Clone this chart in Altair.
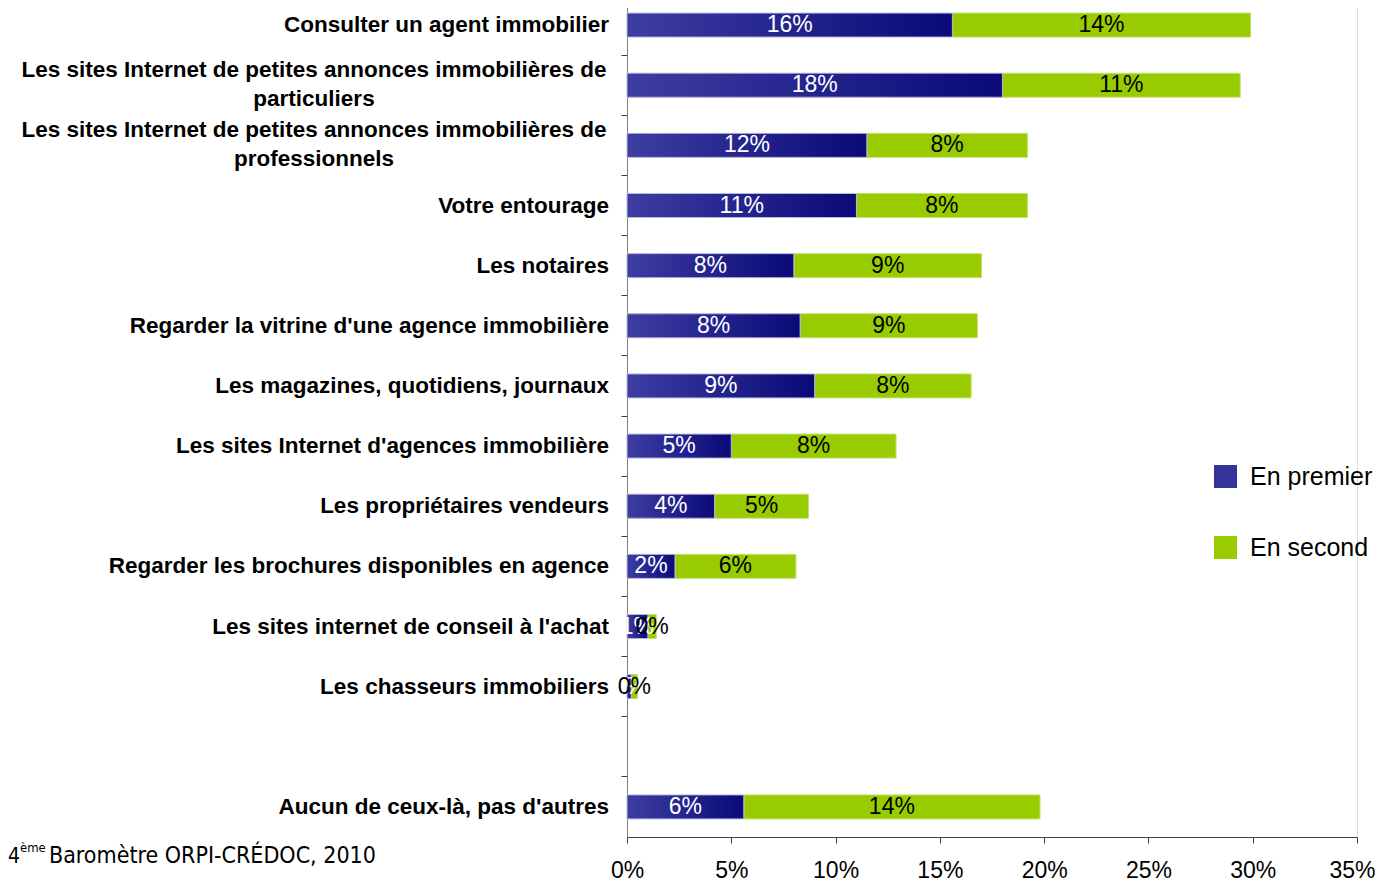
import altair as alt
import pandas as pd

categories = [
    "Consulter un agent immobilier",
    "Les sites Internet de petites annonces immobilières de\nparticuliers",
    "Les sites Internet de petites annonces immobilières de\nprofessionnels",
    "Votre entourage",
    "Les notaires",
    "Regarder la vitrine d'une agence immobilière",
    "Les magazines, quotidiens, journaux",
    "Les sites Internet d'agences immobilière",
    "Les propriétaires vendeurs",
    "Regarder les brochures disponibles en agence",
    "Les sites internet de conseil à l'achat",
    "Les chasseurs immobiliers",
    "Aucun de ceux-là, pas d'autres",
]
premier = [15.6, 18.0, 11.5, 11.0, 8.0, 8.3, 9.0, 5.0, 4.2, 2.3, 1.0, 0.2, 5.6]
second = [14.3, 11.4, 7.7, 8.2, 9.0, 8.5, 7.5, 7.9, 4.5, 5.8, 0.4, 0.3, 14.2]
series_names = ["En premier", "En second"]
series_colors = ["#333399", "#99cc00"]
x_ticks = [0, 5, 10, 15, 20, 25, 30, 35]
gap_slot = " "
y_domain = categories[:12] + [gap_slot] + categories[12:]
source_parts = ["4", "ème", "Baromètre ORPI-CRÉDOC, 2010"]

df = pd.DataFrame({"category": categories, "premier": premier, "second": second})

FONT = "Liberation Sans"

base = alt.Chart(df).transform_calculate(
    total="datum.premier + datum.second",
    mid1="datum.premier / 2",
    mid2="datum.premier + datum.second / 2",
    lab1="round(datum.premier) + '%'",
    lab2="round(datum.second) + '%'",
    two="indexof(datum.category, '\\n') >= 0",
)

Y = alt.Y(
    "category:N",
    sort=y_domain,
    scale=alt.Scale(domain=y_domain, paddingInner=0, paddingOuter=0),
    axis=alt.Axis(
        labels=False, title=None, ticks=True, tickSize=6, bandPosition=0,
        domainColor="#808080", tickColor="#404040", domainWidth=1, grid=False,
    ),
)
X_SCALE = alt.Scale(domain=[0, 35], nice=False)
X_AXIS = alt.Axis(
    values=x_ticks, labelExpr="datum.value + '%'", title=None, grid=False,
    tickSize=6, labelFontSize=23, labelFont=FONT, labelColor="#000000",
    labelPadding=16, labelFlush=False, labelOverlap=False,
    labelAlign={"condition": {"test": "datum.value == 35", "value": "right"}, "value": "center"},
    labelOffset={"condition": {"test": "datum.value == 35", "value": 18}, "value": 0},
    domainColor="#404040", tickColor="#404040",
)
color_enc = alt.Color(
    "series:N",
    scale=alt.Scale(domain=series_names, range=series_colors),
    legend=alt.Legend(
        title=None, orient="none", legendX=586, legendY=469, symbolType="square",
        symbolSize=529, symbolStrokeWidth=0, labelFontSize=25, labelFont=FONT,
        labelColor="#000000", rowPadding=45, labelOffset=12, padding=0,
    ),
)

bar1 = base.transform_calculate(series="'En premier'").mark_bar(size=24).encode(
    x=alt.X("premier:Q", scale=X_SCALE, axis=X_AXIS), y=Y, color=color_enc
)
bar2 = base.transform_calculate(series="'En second'").mark_bar(
    size=24, stroke="#c4e070", strokeWidth=1
).encode(
    x=alt.X("premier:Q", scale=X_SCALE, axis=X_AXIS), x2="total:Q", y=Y, color=color_enc
)
grad = alt.LinearGradient(
    gradient="linear",
    stops=[alt.GradientStop(color="#3d3da2", offset=0), alt.GradientStop(color="#0a0a78", offset=1)],
    x1=0, x2=1, y1=0, y2=0,
)
bar1g = base.mark_bar(size=24, color=grad, stroke="#b8b8dc", strokeWidth=1).encode(
    x=alt.X("premier:Q", scale=X_SCALE, axis=X_AXIS), y=Y
)

lab1 = base.mark_text(font=FONT, fontSize=23, color="white", baseline="middle", align="center").encode(
    x=alt.X("mid1:Q", scale=X_SCALE, axis=X_AXIS), y=Y, text="lab1:N"
)
lab2 = base.mark_text(font=FONT, fontSize=23, color="black", baseline="middle", align="center").encode(
    x=alt.X("mid2:Q", scale=X_SCALE, axis=X_AXIS), y=Y, text="lab2:N"
)

cat1 = base.transform_filter("!datum.two").mark_text(
    font=FONT, fontSize=22.5, fontWeight="bold", align="right", baseline="middle", color="black"
).encode(x=alt.value(-18), y=Y, text="category:N")
cat2 = base.transform_filter("datum.two").mark_text(
    font=FONT, fontSize=22.5, fontWeight="bold", align="center", baseline="middle",
    color="black", lineBreak="\n", lineHeight=29, dy=-15,
).encode(x=alt.value(-313), y=Y, text="category:N")

NARROW = "Liberation Sans Narrow, Arial Narrow, DejaVu Sans Condensed, Liberation Sans"
src_df = pd.DataFrame({"part": source_parts})
src_a = alt.Chart(src_df).transform_filter(alt.datum.part == source_parts[0]).mark_text(
    font=NARROW, fontSize=21, align="left", baseline="alphabetic", color="black"
).encode(x=alt.value(-619), y=alt.value(868), text="part:N")
src_b = alt.Chart(src_df).transform_filter(alt.datum.part == source_parts[1]).mark_text(
    font=NARROW, fontSize=13, align="left", baseline="alphabetic", color="black"
).encode(x=alt.value(-607), y=alt.value(857), text="part:N")
src_c = alt.Chart(src_df).transform_filter(alt.datum.part == source_parts[2]).mark_text(
    font=NARROW, fontSize=23, align="left", baseline="alphabetic", color="black"
).encode(x=alt.value(-578), y=alt.value(868), text="part:N")

chart = alt.layer(
    bar1, bar2, bar1g, lab1, lab2, cat1, cat2, src_a, src_b, src_c
).properties(
    width=730, height=842,
    autosize=alt.AutoSizeParams(type="none"),
    padding={"left": 619, "top": -13, "right": 18, "bottom": 50},
).configure_view(stroke=None).configure(background="white")

chart.save("out.html", embed_options={"renderer": "svg", "actions": False})
